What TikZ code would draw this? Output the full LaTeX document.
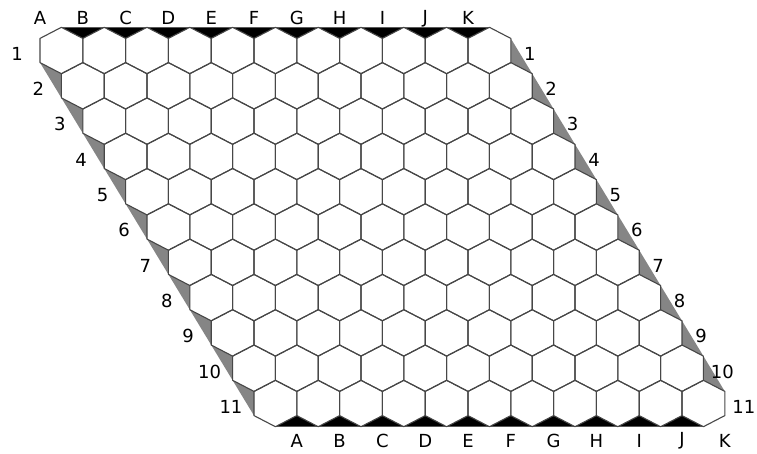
\documentclass[tikz,border=0pt]{standalone}
\usepackage{fontspec}
\setmainfont{DejaVu Sans}
\begin{document}
\begin{tikzpicture}[x=1pt,y=-1pt,
  lbl/.style={font=\fontsize{18}{18}\selectfont, inner sep=0pt, text=black},
  gridline/.style={draw=black!72, line width=1.1pt, line join=round},
  topfill/.style={fill=black},
  sidefill/.style={fill=black!48}]
\useasboundingbox[fill=white] (0,0) rectangle (757,453);
\def\hw{21.4}\def\ha{23.2}\def\hb{12.1}
% black triangles, top edge
\foreach \c in {0,...,9}{
  \pgfmathsetmacro\cx{61.4+42.8*\c}
  \pgfmathsetmacro\cy{50.5}
  \fill[topfill] (\cx,\cy-\ha) -- (\cx+\hw,\cy-\hb) -- (\cx+2*\hw,\cy-\ha) -- cycle;
}
% black triangles, bottom edge
\foreach \c in {0,...,9}{
  \pgfmathsetmacro\cx{61.4+42.8*\c+21.4*10}
  \pgfmathsetmacro\cy{50.5+35.3*10}
  \fill[topfill] (\cx,\cy+\ha) -- (\cx+\hw,\cy+\hb) -- (\cx+2*\hw,\cy+\ha) -- cycle;
}
% gray triangles, left and right edges
\foreach \r in {0,...,9}{
  \pgfmathsetmacro\lx{61.4+21.4*\r}
  \pgfmathsetmacro\rx{61.4+42.8*10+21.4*\r}
  \pgfmathsetmacro\cy{50.5+35.3*\r}
  \fill[sidefill] (\lx-\hw,\cy+\hb) -- (\lx,\cy+\ha) -- (\lx,\cy+35.3+\hb) -- cycle;
  \fill[sidefill] (\rx+\hw,\cy-\hb) -- (\rx+\hw,\cy+\hb) -- (\rx+2*\hw,\cy+35.3-\hb) -- cycle;
}
% hexagon cells
\foreach \r in {0,...,10}{
  \foreach \c in {0,...,10}{
    \pgfmathsetmacro\cx{61.4+42.8*\c+21.4*\r}
    \pgfmathsetmacro\cy{50.5+35.3*\r}
    \draw[gridline] (\cx,\cy-\ha) -- (\cx+\hw,\cy-\hb) -- (\cx+\hw,\cy+\hb)
      -- (\cx,\cy+\ha) -- (\cx-\hw,\cy+\hb) -- (\cx-\hw,\cy-\hb) -- cycle;
  }
}
% column labels
\foreach \L [count=\i from 0] in {A,B,C,D,E,F,G,H,I,J,K}{
  \node[lbl] (top\L) at (40+42.8*\i,18.3) {\L};
  \node[lbl] (bot\L) at (296.8+42.8*\i,441) {\L};
}
% row labels
\foreach \r in {1,...,11}{
  \pgfmathsetmacro\ly{50.5+35.3*(\r-1)+3.3}
  \node[lbl] (left\r) at (17+21.4*\r-21.4,\ly) {\r};
  \node[lbl] (right\r) at (529.8+21.4*\r-21.4,\ly) {\r};
}
\end{tikzpicture}
\end{document}
